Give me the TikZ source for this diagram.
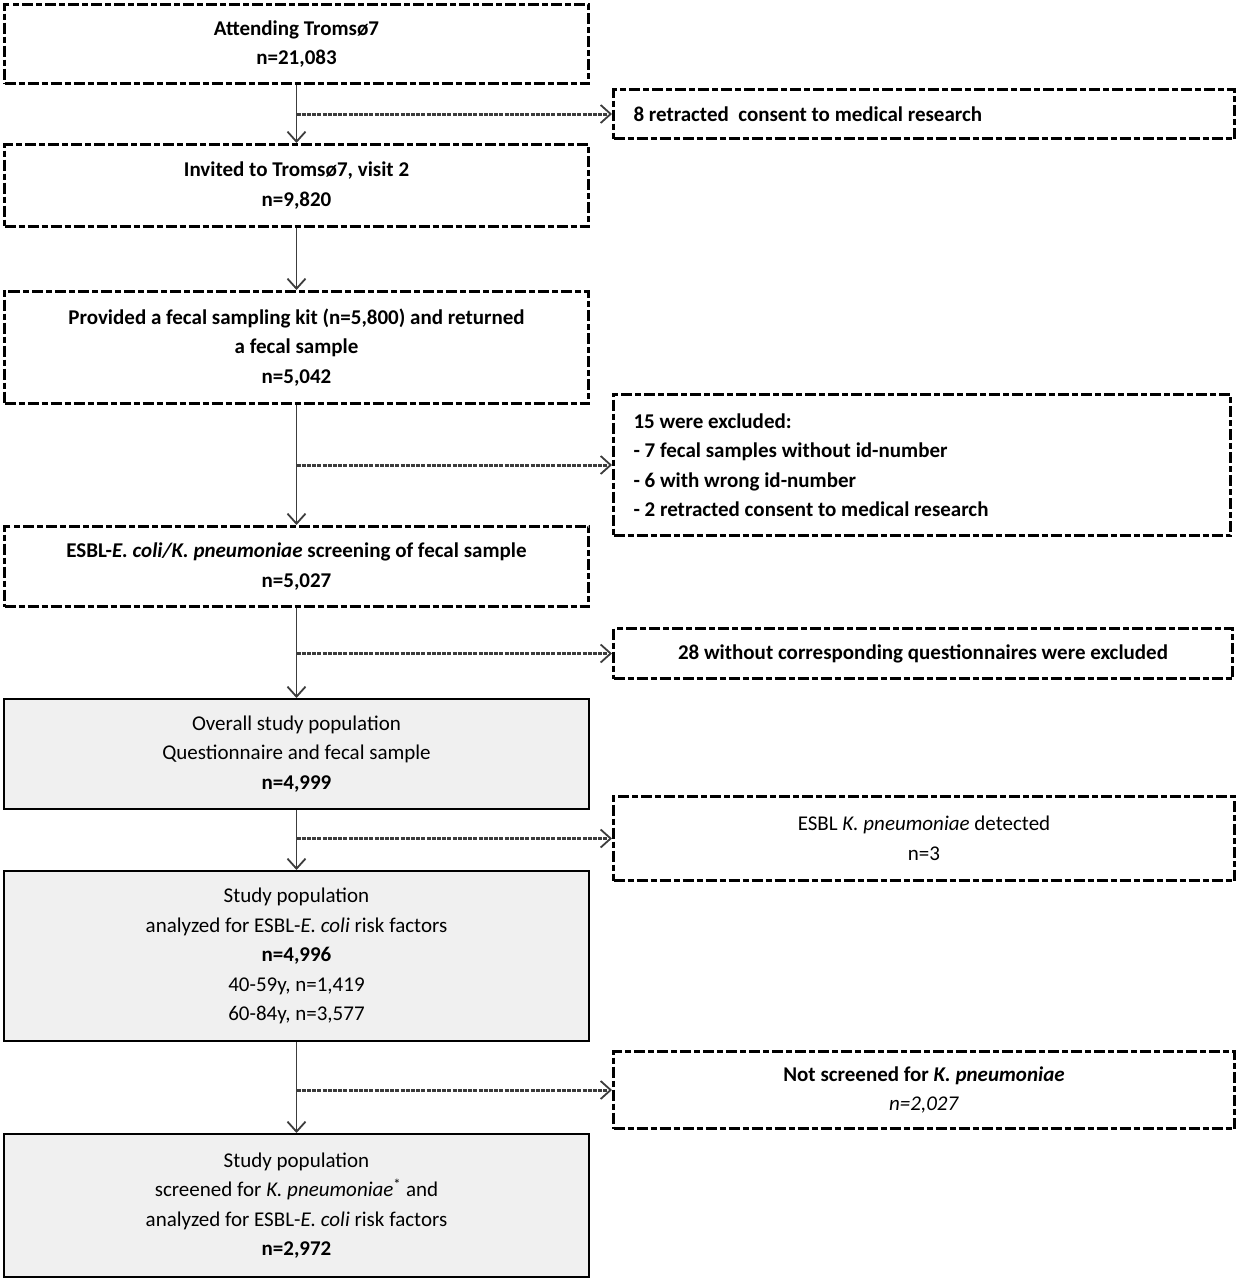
\documentclass[tikz,border=0pt]{standalone}
\usepackage{fontspec}
\setmainfont{Carlito}
\usetikzlibrary{arrows.meta}
\definecolor{boxfill}{RGB}{240,240,240}
\definecolor{linegray}{RGB}{60,60,60}
\begin{document}
\begin{tikzpicture}[x=1pt,y=-1pt,
  dbox/.style={draw=black, line width=3pt, dash pattern=on 11pt off 3pt on 6pt off 3pt,
    align=center, font=\fontsize{21pt}{29.5pt}\selectfont\bfseries, inner sep=0pt},
  gbox/.style={draw=black, line width=2pt, fill=boxfill,
    align=center, font=\fontsize{21pt}{29.5pt}\selectfont, inner sep=0pt},
  varrow/.style={draw=linegray, line width=1.5pt, -{Straight Barb[length=10pt,width=18pt,line width=1.8pt]}},
  harrow/.style={draw=linegray, line width=3pt, dash pattern=on 4pt off 1.2pt,
    -{Straight Barb[length=10pt,width=18pt,line width=1.8pt]}}
]
\useasboundingbox (0,0) rectangle (1239,1280);

% main column
\node[dbox, minimum width=584pt, minimum height=79pt] (b1) at (296.5,44) {Attending Tromsø7\\n=21,083};
\node[dbox, minimum width=584pt, minimum height=82pt] (b2) at (296.5,185.5) {Invited to Tromsø7, visit 2\\n=9,820};
\node[dbox, minimum width=584pt, minimum height=112pt] (b3) at (296.5,347.5) {Provided a fecal sampling kit (n=5,800) and returned\\a fecal sample\\n=5,042};
\node[dbox, minimum width=584pt, minimum height=80pt] (b4) at (296.5,566.5) {ESBL-\textit{E. coli/K. pneumoniae} screening of fecal sample\\n=5,027};
\node[gbox, minimum width=585pt, minimum height=110pt] (b5) at (296.5,754) {Overall study population\\Questionnaire and fecal sample\\\textbf{n=4,999}};
\node[gbox, minimum width=585pt, minimum height=170pt] (b6) at (296.5,956) {Study population\\analyzed for ESBL-\textit{E. coli} risk factors\\\textbf{n=4,996}\\40-59y, n=1,419\\60-84y, n=3,577};
\node[gbox, minimum width=585pt, minimum height=143pt] (b7) at (296.5,1205.5) {Study population\\screened for \textit{K. pneumoniae}\textsuperscript{*} and\\analyzed for ESBL-\textit{E. coli} risk factors\\\textbf{n=2,972}};

% side boxes
\node[dbox, text width=581pt, align=flush left, inner xsep=20pt, minimum height=49pt] (r1) at (924,114) {8 retracted\ \ consent to medical research};
\node[dbox, text width=577pt, align=flush left, inner xsep=20pt, minimum height=141pt] (r2) at (922,465) {15 were excluded:\\- 7 fecal samples without id-number\\- 6 with wrong id-number\\- 2 retracted consent to medical research};
\node[dbox, minimum width=619pt, minimum height=50pt] (r3) at (923,653.5) {28 without corresponding questionnaires were excluded};
\node[dbox, font=\fontsize{21pt}{29.5pt}\selectfont, minimum width=621pt, minimum height=84pt] (r4) at (924,838.5) {ESBL \textit{K. pneumoniae} detected\\n=3};
\node[dbox, font=\fontsize{21pt}{29.5pt}\selectfont, minimum width=621pt, minimum height=77pt] (r5) at (924,1090) {\textbf{Not screened for \textit{K. pneumoniae}}\\\textit{n=2,027}};

% vertical flow
\draw[varrow] (b1.south) -- (b2.north);
\draw[varrow] (b2.south) -- (b3.north);
\draw[varrow] (b3.south) -- (b4.north);
\draw[varrow] (b4.south) -- (b5.north);
\draw[varrow] (b5.south) -- (b6.north);
\draw[varrow] (b6.south) -- (b7.north);

% branches
\draw[harrow] (b1.south |- r1.west) -- (r1.west);
\draw[harrow] (b3.south |- r2.west) -- (r2.west);
\draw[harrow] (b4.south |- r3.west) -- (r3.west);
\draw[harrow] (b5.south |- r4.west) -- (r4.west);
\draw[harrow] (b6.south |- r5.west) -- (r5.west);
\end{tikzpicture}
\end{document}
